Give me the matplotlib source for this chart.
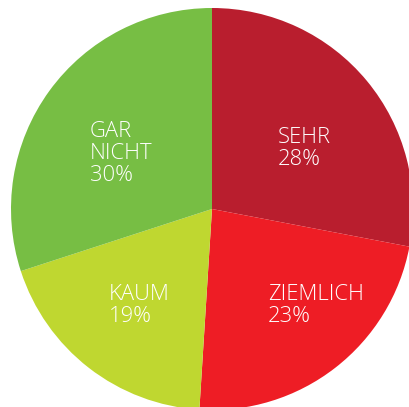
import matplotlib.pyplot as plt

labels = ['SEHR', 'ZIEMLICH', 'KAUM', 'GAR\nNICHT']
shares = [28, 23, 19, 30]
colors = ['#B91E2E', '#EE1D25', '#BFD730', '#77BE44']

W, H = 409, 407
fig = plt.figure(figsize=(W / 100, H / 100), dpi=100)
ax = fig.add_axes([0, 0, 1, 1])

ax.pie(shares, colors=colors, startangle=90, counterclock=False,
       center=(212, H - 209), radius=201,
       wedgeprops={'linewidth': 0})

# label positions (top-left of text block, pixels from top-left)
label_pos = [(278, 127), (268, 284), (109, 284), (90, 121)]
for lab, val, (x, y) in zip(labels, shares, label_pos):
    ax.text(x, H - y, f'{lab}\n{val}%', color='white', fontsize=15.8,
            family='Open Sans', fontweight='light', ha='left', va='top',
            linespacing=1.06, zorder=5)

ax.set_xlim(0, W)
ax.set_ylim(0, H)
ax.set_aspect('equal')
ax.axis('off')

plt.savefig('out.png', dpi=100)
